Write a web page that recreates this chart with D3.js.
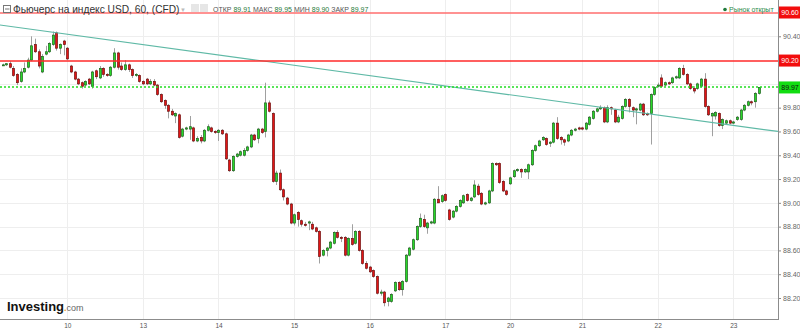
<!DOCTYPE html>
<html>
<head>
<meta charset="utf-8">
<script src="https://cdn.jsdelivr.net/npm/d3@7"></script>
<style>
  body { margin: 0; background: #fff; }
  svg { display: block; font-family: "Liberation Sans", Arial, sans-serif; }
</style>
</head>
<body>
<div id="chart"></div>
<script>
// hourly candles
let opens = [90.16,90.16,90.17,90.13,90.08,90.02,90.10,90.14,90.20,90.33,90.27,90.10,90.25,90.27,90.33,90.43,90.30,90.36,90.30,90.15,
  90.10,90.04,90.01,89.99,90.04,89.98,90.11,90.05,90.13,90.08,90.07,90.14,90.26,90.15,90.12,90.16,90.12,90.07,90.07,90.02,
  90.04,90.00,90.02,89.99,89.91,89.86,89.82,89.77,89.73,89.74,89.56,89.62,89.62,89.63,89.52,89.55,89.52,89.61,89.63,89.60,
  89.59,89.61,89.58,89.36,89.27,89.39,89.40,89.40,89.44,89.47,89.57,89.54,89.62,89.60,89.84,89.75,89.18,89.25,89.11,89.04,
  88.99,88.83,88.92,88.85,88.82,88.83,88.82,88.79,88.76,88.56,88.60,88.62,88.66,88.75,88.71,88.71,88.56,88.70,88.66,88.76,
  88.60,88.49,88.46,88.43,88.38,88.24,88.25,88.17,88.17,88.26,88.33,88.27,88.34,88.56,88.61,88.69,88.80,88.86,88.79,88.83,
  88.83,89.03,89.01,89.07,88.94,88.88,88.93,88.97,89.00,89.07,89.02,89.05,89.14,89.08,88.99,89.00,89.10,89.33,89.33,89.18,
  89.10,89.16,89.22,89.27,89.28,89.26,89.26,89.32,89.44,89.48,89.53,89.54,89.50,89.51,89.67,89.55,89.53,89.52,89.57,89.61,
  89.63,89.63,89.62,89.66,89.71,89.77,89.79,89.80,89.68,89.80,89.78,89.68,89.71,89.81,89.87,89.80,89.78,89.78,89.83,89.75,
  89.75,89.91,89.98,90.05,89.99,90.01,90.01,90.05,90.05,90.13,90.08,90.00,89.96,89.96,89.98,90.04,89.81,89.73,89.73,89.75,
  89.65,89.67,89.69,89.67,89.70,89.70,89.78,89.82,89.85,89.85,89.92];
let highs = [90.17,90.17,90.19,90.15,90.09,90.13,90.18,90.22,90.40,90.38,90.29,90.25,90.32,90.35,90.44,90.44,90.34,90.37,90.31,90.16,
  90.11,90.05,90.02,90.03,90.05,90.11,90.12,90.15,90.14,90.09,90.15,90.30,90.27,90.18,90.20,90.17,90.13,90.09,90.08,90.03,
  90.05,90.04,90.04,90.00,89.92,89.87,89.83,89.79,89.76,89.75,89.63,89.64,89.73,89.64,89.56,89.57,89.62,89.66,89.64,89.61,
  89.62,89.62,89.59,89.37,89.40,89.42,89.44,89.46,89.48,89.58,89.58,89.63,89.63,90.01,89.86,89.76,89.27,89.28,89.12,89.05,
  89.00,88.91,88.93,88.86,88.84,88.85,88.84,88.80,88.77,88.61,88.63,88.68,88.76,88.77,88.72,88.72,88.71,88.82,88.77,88.77,
  88.61,88.51,88.47,88.44,88.39,88.27,88.26,88.21,88.24,88.34,88.34,88.35,88.57,88.63,88.70,88.81,88.91,88.90,88.84,88.85,
  89.04,89.14,89.07,89.08,88.95,88.94,88.98,89.03,89.07,89.08,89.05,89.19,89.16,89.09,89.01,89.11,89.34,89.34,89.34,89.19,
  89.11,89.22,89.28,89.29,89.29,89.29,89.33,89.45,89.49,89.53,89.56,89.55,89.52,89.68,89.72,89.56,89.54,89.58,89.62,89.63,
  89.64,89.64,89.68,89.73,89.78,89.80,89.82,89.81,89.82,89.81,89.79,89.74,89.82,89.88,89.88,89.81,89.80,89.84,89.84,89.76,
  89.92,89.98,90.01,90.08,90.02,90.02,90.06,90.07,90.14,90.16,90.09,90.01,89.98,90.01,90.05,90.09,89.82,89.76,89.77,89.76,
  89.71,89.70,89.70,89.69,89.73,89.79,89.83,89.86,89.86,89.93,89.97];
let lows = [90.15,90.15,90.13,90.06,89.99,90.01,90.09,90.13,90.19,90.26,90.13,90.09,90.24,90.26,90.32,90.28,90.25,90.24,90.20,90.09,
  90.03,89.99,89.96,89.98,89.99,89.96,90.04,90.04,90.06,90.06,90.06,90.13,90.12,90.11,90.11,90.10,90.05,90.06,90.01,89.99,
  89.99,89.99,89.98,89.90,89.84,89.79,89.71,89.73,89.67,89.54,89.55,89.61,89.53,89.51,89.51,89.50,89.51,89.60,89.59,89.58,
  89.52,89.57,89.36,89.26,89.26,89.38,89.39,89.39,89.43,89.46,89.52,89.50,89.58,89.55,89.76,89.17,89.15,89.10,89.02,88.98,
  88.82,88.81,88.80,88.80,88.80,88.77,88.77,88.75,88.49,88.55,88.55,88.61,88.65,88.70,88.67,88.55,88.55,88.64,88.65,88.59,
  88.48,88.44,88.41,88.37,88.23,88.22,88.13,88.13,88.16,88.25,88.26,88.22,88.33,88.55,88.60,88.68,88.79,88.79,88.74,88.82,
  88.82,89.00,89.00,89.01,88.85,88.87,88.92,88.96,88.99,89.01,89.01,89.04,89.06,88.98,88.98,88.99,89.09,89.31,89.16,89.09,
  89.06,89.15,89.21,89.26,89.21,89.25,89.20,89.31,89.43,89.47,89.52,89.48,89.47,89.50,89.53,89.49,89.48,89.51,89.56,89.60,
  89.61,89.61,89.61,89.65,89.70,89.76,89.78,89.67,89.67,89.74,89.67,89.67,89.70,89.80,89.76,89.72,89.66,89.77,89.73,89.73,
  89.49,89.90,89.97,89.97,89.98,89.99,90.00,90.04,90.04,90.07,89.99,89.95,89.92,89.95,89.97,89.80,89.73,89.56,89.70,89.64,
  89.62,89.66,89.66,89.66,89.69,89.69,89.77,89.81,89.82,89.80,89.91];
let closes = [90.16,90.17,90.14,90.07,90.01,90.10,90.13,90.20,90.32,90.27,90.15,90.23,90.27,90.34,90.41,90.30,90.33,90.33,90.21,90.10,
  90.04,90.00,89.98,90.02,90.00,90.10,90.06,90.13,90.08,90.07,90.14,90.26,90.14,90.12,90.16,90.12,90.07,90.08,90.02,90.00,
  90.00,90.02,89.99,89.91,89.85,89.82,89.77,89.74,89.75,89.55,89.62,89.63,89.64,89.52,89.54,89.52,89.61,89.64,89.60,89.59,
  89.61,89.58,89.37,89.27,89.39,89.41,89.43,89.44,89.47,89.57,89.53,89.62,89.59,89.84,89.77,89.18,89.25,89.11,89.05,88.99,
  88.83,88.90,88.86,88.82,88.81,88.84,88.78,88.76,88.55,88.60,88.62,88.67,88.75,88.71,88.70,88.56,88.70,88.65,88.76,88.60,
  88.49,88.45,88.42,88.38,88.24,88.25,88.16,88.20,88.23,88.33,88.27,88.34,88.56,88.62,88.69,88.80,88.87,88.80,88.83,88.84,
  89.03,89.00,89.06,89.02,88.86,88.93,88.97,89.02,89.06,89.02,89.04,89.15,89.07,88.99,89.00,89.10,89.33,89.32,89.17,89.10,
  89.07,89.21,89.27,89.28,89.26,89.28,89.32,89.44,89.48,89.52,89.55,89.49,89.51,89.67,89.54,89.53,89.51,89.57,89.61,89.62,
  89.62,89.62,89.67,89.72,89.77,89.79,89.80,89.68,89.80,89.79,89.68,89.72,89.81,89.87,89.81,89.78,89.79,89.83,89.74,89.74,
  89.91,89.97,89.99,89.98,90.01,90.00,90.05,90.06,90.13,90.08,90.00,89.96,89.94,90.00,90.04,89.81,89.74,89.75,89.76,89.65,
  89.70,89.69,89.67,89.68,89.72,89.78,89.82,89.85,89.84,89.92,89.97];

let dayLabels = ["10","13","14","15","16","17","20","21","22","23"];
let dayStart = [18, 39, 60, 81, 102, 123, 141, 161, 182, 203];   // candle index where each day begins
let yTicks = [88.2, 88.4, 88.6, 88.8, 89.0, 89.2, 89.4, 89.6, 89.8, 90.0, 90.4];

// price levels drawn on the chart
let levelPrices = [90.60, 90.196, 89.97];
let levelColors = ["#ff6e6e", "#ff2a2a", "#22dd22"];
let levelDash = [null, null, "2,2"];
let trendLine = [[-0.7, 90.495], [215.4, 89.60]];

let width = 800, height = 331;
let plotRight = 778, plotBottom = 319.5;

let svg = d3.select("#chart").append("svg")
    .attr("width", width)
    .attr("height", height);

let x = d3.scaleLinear().domain([0, 210]).range([2.5, 758.5]);
let y = d3.scaleLinear().domain([88.2, 90.6]).range([298, 12.5]);

let candles = opens.map((o, i) => ({i: i, o: o, h: highs[i], l: lows[i], c: closes[i]}));

// grid
svg.append("g").selectAll("line").data(yTicks).join("line")
    .attr("x1", 0).attr("x2", plotRight)
    .attr("y1", d => Math.round(y(d)) + 0.5).attr("y2", d => Math.round(y(d)) + 0.5)
    .attr("stroke", "#eeeeee");
svg.append("g").selectAll("line").data(dayStart).join("line")
    .attr("y1", 0).attr("y2", plotBottom)
    .attr("x1", d => Math.round(x(d)) + 0.5).attr("x2", d => Math.round(x(d)) + 0.5)
    .attr("stroke", "#eeeeee");

let plot = svg.append("g");

// candles
plot.selectAll(".wick").data(candles).join("line")
    .attr("class", "wick")
    .attr("x1", d => Math.round(x(d.i)) + 0.5).attr("x2", d => Math.round(x(d.i)) + 0.5)
    .attr("y1", d => y(d.h)).attr("y2", d => y(d.l))
    .attr("stroke", "#a0a0a0").attr("stroke-width", 1);

plot.selectAll(".body").data(candles).join("rect")
    .attr("class", "body")
    .attr("x", d => Math.round(x(d.i)) - 0.5)
    .attr("width", 2)
    .attr("y", d => y(Math.max(d.o, d.c)))
    .attr("height", d => Math.max(1, Math.abs(y(d.o) - y(d.c))))
    .attr("fill", d => d.c >= d.o ? "#27d927" : "#e31414")
    .attr("stroke", d => d.c >= d.o ? "#1d5f1d" : "#6e0f0f")
    .attr("stroke-width", 0.7);

// trend line
plot.append("line")
    .attr("x1", x(trendLine[0][0])).attr("y1", y(trendLine[0][1]))
    .attr("x2", x(trendLine[1][0])).attr("y2", y(trendLine[1][1]))
    .attr("stroke", "#5fb9a6").attr("stroke-width", 1.2);

// horizontal price levels (a bit wider so the colour survives)
svg.append("g").selectAll("line").data(levelPrices).join("line")
    .attr("x1", 0).attr("x2", plotRight)
    .attr("y1", d => Math.round(y(d))).attr("y2", d => Math.round(y(d)))
    .style("stroke", (d, k) => levelColors[k])
    .style("stroke-width", "1.4px")
    .style("stroke-dasharray", (d, k) => levelDash[k]);

// axes
let yAxis = svg.append("g")
    .attr("transform", `translate(${plotRight},0)`)
    .call(d3.axisRight(y).tickValues(yTicks).tickFormat(d3.format(".2f")).tickSize(3).tickPadding(2));
yAxis.select(".domain").remove();
yAxis.selectAll("line").attr("stroke", "#888");
yAxis.selectAll("text").attr("fill", "#666").style("font-size", "7px");

let xAxis = svg.append("g")
    .attr("transform", `translate(0,${plotBottom})`)
    .call(d3.axisBottom(x).tickValues(dayStart).tickFormat((d, i) => dayLabels[i]).tickSize(0).tickPadding(4));
xAxis.select(".domain").remove();
xAxis.selectAll("text").attr("fill", "#555").style("font-size", "6.5px");

svg.append("line").attr("x1", plotRight + 0.5).attr("x2", plotRight + 0.5)
    .attr("y1", 0).attr("y2", plotBottom).attr("stroke", "#8c8c8c");
svg.append("line").attr("x1", 0).attr("x2", plotRight + 1)
    .attr("y1", plotBottom).attr("y2", plotBottom).attr("stroke", "#8c8c8c");

// price boxes on the axis
let boxText = ["#fff", "#fff", "#111"];
levelPrices.forEach((p, k) => {
    let g = svg.append("g").attr("transform", `translate(${plotRight + 1},${y(p)})`);
    g.append("rect").attr("x", 0).attr("y", -6).attr("width", 22).attr("height", 12)
        .attr("fill", k == 2 ? "#12dd12" : "#f20d0d");
    g.append("text").attr("x", 11).attr("y", 2.5).attr("text-anchor", "middle")
        .attr("fill", boxText[k]).style("font-size", "7px")
        .text(d3.format(".2f")(p));
});

// header
let head = svg.append("g");
head.append("rect").attr("x", 3.5).attr("y", 5.5).attr("width", 7).attr("height", 7)
    .attr("fill", "none").attr("stroke", "#777");
head.append("line").attr("x1", 5).attr("x2", 9.5).attr("y1", 9).attr("y2", 9).attr("stroke", "#777");
head.append("text").attr("x", 13).attr("y", 12.5)
    .attr("fill", "#333").style("font-size", "10.2px")
    .text("Фьючерс на индекс USD, 60, (CFD)");
head.append("text").attr("x", 180).attr("y", 11.5)
    .attr("fill", "#bbb").style("font-size", "6px").text("▼");
head.append("rect").attr("x", 191).attr("y", 4).attr("width", 8).attr("height", 8).attr("fill", "#e6e6e6");
head.append("rect").attr("x", 200).attr("y", 4).attr("width", 8).attr("height", 8).attr("fill", "#e6e6e6");

let ohlcNames = ["ОТКР", "МАКС", "МИН", "ЗАКР"];
let ohlcValues = ["89.91", "89.95", "89.90", "89.97"];
let ohlc = head.append("text").attr("x", 213).attr("y", 12).style("font-size", "7px");
ohlcNames.forEach((n, k) => {
    ohlc.append("tspan").attr("fill", "#555").text((k ? " " : "") + n + " ");
    ohlc.append("tspan").attr("fill", "#1f7a3a").text(ohlcValues[k]);
});

head.append("circle").attr("cx", 725).attr("cy", 9.5).attr("r", 1.8).attr("fill", "#1f7a3a");
head.append("text").attr("x", 729).attr("y", 12)
    .attr("fill", "#2a8a4a").style("font-size", "7px").text("Рынок открыт");

// logo
let logo = svg.append("text").attr("x", 7).attr("y", 311);
logo.append("tspan").attr("fill", "#111").style("font-size", "13px").style("font-weight", "bold").text("Investing");
logo.append("tspan").attr("fill", "#f29a1a").style("font-size", "9px").style("font-weight", "bold").text(".");
logo.append("tspan").attr("fill", "#666").style("font-size", "9px").text("com");
</script>
</body>
</html>
